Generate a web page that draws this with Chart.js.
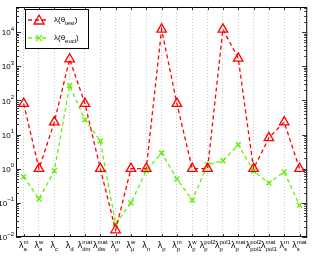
<!DOCTYPE html>
<html>
<head>
<meta charset="utf-8">
<script src="https://cdn.jsdelivr.net/npm/chart.js@4"></script>
<style>
  html, body { margin: 0; padding: 0; background: #fff; }
  #caja { width: 314px; height: 257px; }
</style>
</head>
<body>
<div id="caja"><canvas id="grafico"></canvas></div>
<script>
// categorias: lambda con subindice y superindice
let subindices = ['a','a','c','d','dm','dw','μ','μ','n','p','p','p','p','p','p','pol1','pol1','s','s']
let superindices = ['m','w','','','mat','mat','m','w','','','m','w','pol2','pol1','mat','pol2','mat','m','mat']
let categorias = subindices.map((s, i) => 'λ_' + s + (superindices[i] ? '^' + superindices[i] : ''))

// valores
let valores_test = [80, 1, 23, 1600, 80, 1, 0.016, 1, 1, 12000, 80, 1, 1, 12000, 1700, 1, 8, 23, 1]
let valores_eucl = [0.58, 0.13, 0.87, 270, 27, 6.5, 0.024, 0.1, 0.88, 2.9, 0.5, 0.12, 1.3, 1.7, 5, 0.85, 0.38, 0.8, 0.085]

// ticks del eje y (exponentes de 10)
let exponentes = [-2, -1, 0, 1, 2, 3, 4]

let rojo = '#ff0000'
let verde = '#66ee11'
let fuente = '"Liberation Sans", Arial, sans-serif'

function textoCompuesto(ctx, base, sub, sup, x, y, tam, centrado){
  let tamChico = Math.round(tam * 0.72)
  ctx.font = tam + 'px ' + fuente
  let wBase = ctx.measureText(base).width
  ctx.font = tamChico + 'px ' + fuente
  let wSub = sub ? ctx.measureText(sub).width : 0
  let wSup = sup ? ctx.measureText(sup).width : 0
  let total = wBase + Math.max(wSub, wSup)
  let x0 = centrado ? x - total / 2 : x - total
  ctx.textBaseline = 'middle'
  ctx.textAlign = 'left'
  ctx.font = tam + 'px ' + fuente
  ctx.fillText(base, x0, y)
  ctx.font = tamChico + 'px ' + fuente
  if(sub) ctx.fillText(sub, x0 + wBase, y + 3.5)
  if(sup) ctx.fillText(sup, x0 + wBase, y - 4)
}

let dibujos = {
  id: 'dibujos',
  afterDraw(chart){
    let ctx = chart.ctx
    let a = chart.chartArea
    let sx = chart.scales.x
    let sy = chart.scales.y
    ctx.save()

    // marco
    ctx.strokeStyle = '#000'
    ctx.lineWidth = 1
    ctx.strokeRect(a.left + 0.5, a.top + 0.5, a.right - a.left - 1, a.bottom - a.top - 1)

    // ticks x arriba y abajo
    ctx.strokeStyle = '#333'
    ctx.beginPath()
    categorias.forEach((c, i) => {
      let px = Math.round(sx.getPixelForValue(i)) + 0.5
      ctx.moveTo(px, a.bottom); ctx.lineTo(px, a.bottom - 3)
      ctx.moveTo(px, a.top); ctx.lineTo(px, a.top + 3)
    })
    ctx.stroke()

    // ticks y mayores y menores
    ctx.beginPath()
    for(let e = -2; e <= 4; e++){
      for(let m = 1; m <= 9; m++){
        let v = m * Math.pow(10, e)
        if(v > sy.max) break
        let py = Math.round(sy.getPixelForValue(v)) + 0.5
        let largo = m == 1 ? 5 : 3
        ctx.moveTo(a.left, py); ctx.lineTo(a.left + largo, py)
        ctx.moveTo(a.right, py); ctx.lineTo(a.right - largo, py)
      }
    }
    ctx.stroke()

    // etiquetas y
    ctx.fillStyle = '#000'
    exponentes.forEach(e => {
      let py = sy.getPixelForValue(Math.pow(10, e))
      textoCompuesto(ctx, '10', '', String(e).replace('-', '\u2212'), a.left - 2, py + 1, 8, false)
    })

    // etiquetas x
    categorias.forEach((c, i) => {
      let px = sx.getPixelForValue(i)
      textoCompuesto(ctx, 'λ', subindices[i], superindices[i], px, a.bottom + 9, 9, true)
    })

    // leyenda
    let lx = 25, ly = 9, lw = 63, lh = 39
    ctx.fillStyle = '#fff'
    ctx.fillRect(lx, ly, lw, lh)
    ctx.strokeStyle = '#000'
    ctx.strokeRect(lx + 0.5, ly + 0.5, lw, lh)
    let filas = [
      {color: rojo, sub: 'test', y: ly + 11},
      {color: verde, sub: 'eucl', y: ly + 29}
    ]
    filas.forEach((f, k) => {
      ctx.strokeStyle = f.color
      ctx.lineWidth = 1.3
      ctx.setLineDash([4, 3])
      ctx.beginPath()
      ctx.moveTo(lx + 3, f.y); ctx.lineTo(lx + 24, f.y)
      ctx.stroke()
      ctx.setLineDash([])
      let mx = lx + 14
      ctx.beginPath()
      if(k == 0){
        ctx.moveTo(mx, f.y - 5); ctx.lineTo(mx + 5, f.y + 4); ctx.lineTo(mx - 5, f.y + 4); ctx.closePath()
      } else {
        ctx.moveTo(mx - 3, f.y - 3); ctx.lineTo(mx + 3, f.y + 3)
        ctx.moveTo(mx + 3, f.y - 3); ctx.lineTo(mx - 3, f.y + 3)
      }
      ctx.stroke()
      ctx.fillStyle = '#000'
      ctx.font = '8px ' + fuente
      ctx.textBaseline = 'middle'
      ctx.textAlign = 'left'
      let t1 = 'λ(θ'
      ctx.fillText(t1, lx + 29, f.y)
      let w1 = ctx.measureText(t1).width
      ctx.font = '6px ' + fuente
      ctx.fillText(f.sub, lx + 29 + w1, f.y + 3)
      let w2 = ctx.measureText(f.sub).width
      ctx.font = '8px ' + fuente
      ctx.fillText(')', lx + 29 + w1 + w2, f.y)
    })
    ctx.restore()
  }
}

let grafico = document.getElementById('grafico').getContext('2d')

new Chart(grafico, {
  type: 'line',
  data: {
    labels: categorias,
    datasets: [{
      label: 'λ(θ_test)',
      data: valores_test,
      borderColor: rojo,
      borderWidth: 1.3,
      borderDash: [4, 3],
      pointStyle: 'triangle',
      pointRadius: 5.5,
      pointBorderWidth: 1.3,
      pointBorderColor: rojo,
      pointBackgroundColor: 'rgba(0,0,0,0)',
      tension: 0
    }, {
      label: 'λ(θ_eucl)',
      data: valores_eucl,
      borderColor: verde,
      borderWidth: 1.3,
      borderDash: [4, 3],
      pointStyle: 'crossRot',
      pointRadius: 3.5,
      pointBorderWidth: 1.5,
      pointBorderColor: verde,
      tension: 0
    }]
  },
  options: {
    responsive: true,
    maintainAspectRatio: false,
    animation: false,
    layout: { padding: { left: 16, right: 6, top: 7, bottom: 20 } },
    plugins: { legend: { display: false }, tooltip: { enabled: false } },
    scales: {
      x: {
        type: 'category',
        offset: true,
        ticks: { display: false },
        grid: { display: true, color: '#c8c8c8', drawTicks: false, offset: false },
        border: { display: false, dash: [1, 2] }
      },
      y: {
        type: 'logarithmic',
        min: 0.01,
        max: 54000,
        ticks: { display: false },
        grid: { display: false, drawTicks: false },
        border: { display: false }
      }
    }
  },
  plugins: [dibujos]
})
</script>
</body>
</html>
